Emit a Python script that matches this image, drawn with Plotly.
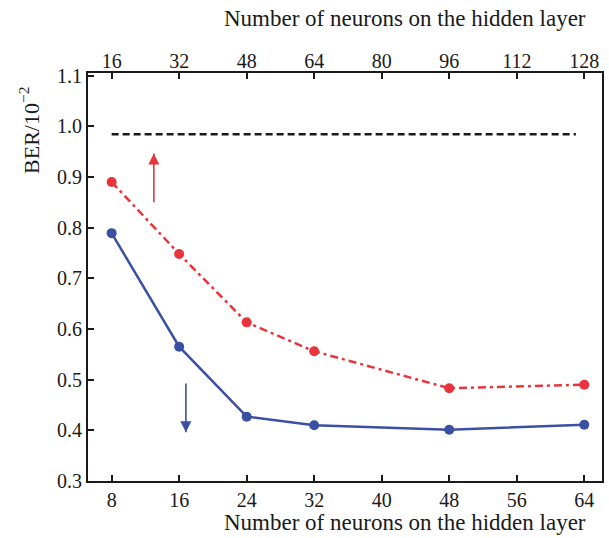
import plotly.graph_objects as go

neurons = [8, 16, 24, 32, 48, 64]
ber_red = [0.89, 0.748, 0.613, 0.556, 0.483, 0.49]
ber_blue = [0.789, 0.565, 0.427, 0.41, 0.401, 0.411]
ref_x = [8, 63]
ref_y = [0.984, 0.984]
bottom_ticks = [8, 16, 24, 32, 40, 48, 56, 64]
top_ticks = [16, 32, 48, 64, 80, 96, 112, 128]
y_ticks = [0.3, 0.4, 0.5, 0.6, 0.7, 0.8, 0.9, 1.0, 1.1]
y_ticktext = ["0.3", "0.4", "0.5", "0.6", "0.7", "0.8", "0.9", "1.0", "1.1"]
# arrows (tail -> head), in data units
red_arrow_x = [13, 13]
red_arrow_y = [0.85, 0.946]
blue_arrow_x = [16.8, 16.8]
blue_arrow_y = [0.4925, 0.396]
x_title = "Number of neurons on the hidden layer"
y_title = "BER/10<sup>−2</sup>"

RED = "#e8343b"
BLUE = "#3b4fa3"
INK = "#1a1a1a"
FONT = "Liberation Serif"
TICK_SIZE = 20
TITLE_SIZE = 23

W, H = 609, 538
L, R, T, B = 87.5, 6.5, 72.7, 57.3
PW, PH = W - L - R, H - T - B


def px_x(p):
    return (p - L) / PW


def px_y(p):
    return (H - B - p) / PH


fig = go.Figure()
fig.add_trace(go.Scatter(x=ref_x, y=ref_y, mode="lines",
                         line=dict(color=INK, width=2.5, dash="7px,4px"),
                         showlegend=False, hoverinfo="skip"))
fig.add_trace(go.Scatter(x=neurons, y=ber_red, mode="lines+markers",
                         line=dict(color=RED, width=2.5, dash="8px,4px,3px,4px"),
                         marker=dict(color=RED, size=10), showlegend=False))
fig.add_trace(go.Scatter(x=neurons, y=ber_blue, mode="lines+markers",
                         line=dict(color=BLUE, width=2.5),
                         marker=dict(color=BLUE, size=10), showlegend=False))

# arrows as line + arrowhead marker
for ax_, ay_, col, sym in [(red_arrow_x, red_arrow_y, RED, "arrow-up"),
                           (blue_arrow_x, blue_arrow_y, BLUE, "arrow-down")]:
    fig.add_trace(go.Scatter(x=ax_, y=ay_, mode="lines",
                             line=dict(color=col, width=1.6),
                             showlegend=False, hoverinfo="skip"))
    fig.add_trace(go.Scatter(x=[ax_[1]], y=[ay_[1]], mode="markers",
                             marker=dict(symbol=sym, size=11, color=col,
                                         line=dict(width=0)),
                             showlegend=False, hoverinfo="skip"))

# invisible trace to carry the top axis
fig.add_trace(go.Scatter(x=[top_ticks[0], top_ticks[-1]], y=[0.3, 0.3], xaxis="x2",
                         mode="markers", marker=dict(opacity=0), showlegend=False,
                         hoverinfo="skip"))

# titles
fig.add_annotation(text=y_title, xref="paper", yref="paper",
                   x=px_x(29), y=px_y(130), textangle=-90, showarrow=False,
                   xanchor="center", yanchor="middle",
                   font=dict(family=FONT, size=TITLE_SIZE - 1, color=INK))
fig.add_annotation(text=x_title, xref="paper", yref="paper",
                   x=px_x(588), y=px_y(18), showarrow=False,
                   xanchor="right", yanchor="middle",
                   font=dict(family=FONT, size=TITLE_SIZE, color=INK))
fig.add_annotation(text=x_title, xref="paper", yref="paper",
                   x=px_x(588), y=px_y(522), showarrow=False,
                   xanchor="right", yanchor="middle",
                   font=dict(family=FONT, size=TITLE_SIZE, color=INK))

xr = [5.2, 66.1]
fig.update_layout(
    width=W, height=H,
    margin=dict(l=L, r=R, t=T, b=B),
    plot_bgcolor="white", paper_bgcolor="white",
    font=dict(family=FONT, size=TICK_SIZE, color=INK),
    xaxis=dict(range=xr, tickvals=bottom_ticks, ticks="inside", ticklen=6,
               tickwidth=1.5, tickcolor=INK, showline=True, linecolor=INK,
               linewidth=1.8, mirror=True, showgrid=False, zeroline=False,
               tickfont=dict(size=TICK_SIZE)),
    xaxis2=dict(range=[xr[0] * 2, xr[1] * 2], tickvals=top_ticks, overlaying="x",
                side="top", ticks="inside", ticklen=6, tickwidth=1.5,
                tickcolor=INK, showline=False, showgrid=False, zeroline=False,
                tickfont=dict(size=TICK_SIZE)),
    yaxis=dict(range=[0.3, 1.105], tickvals=y_ticks, ticktext=y_ticktext,
               ticks="inside", ticklen=6, tickwidth=1.5, tickcolor=INK,
               showline=True, linecolor=INK, linewidth=1.8, mirror=True,
               showgrid=False, zeroline=False,
               tickfont=dict(size=TICK_SIZE)),
)

fig.write_html("out.html")
